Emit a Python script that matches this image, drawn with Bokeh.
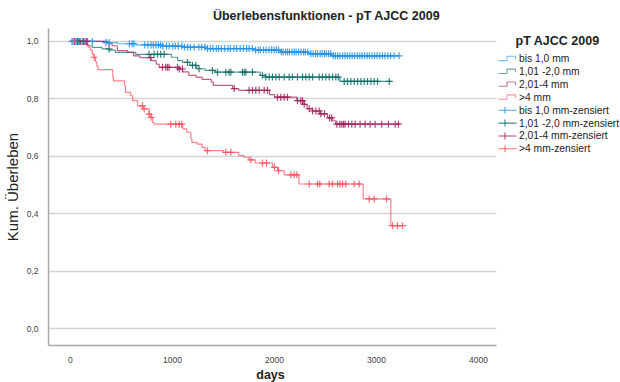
import numpy as np
from bokeh.plotting import figure
from bokeh.layouts import column, row
from bokeh.models import Range1d, FixedTicker, CustomJSTickFormatter
from bokeh.core.properties import value
from bokeh.embed import file_html
from bokeh.resources import INLINE

FONT = "Liberation Sans"

# ---- Kaplan-Meier step data (days, cumulative survival) per pT group ----
groups = ["bis 1,0 mm", "1,01 -2,0 mm", "2,01-4 mm", ">4 mm"]

t_bis1 = [0, 340, 460, 640, 900, 1100, 1330, 1800, 2060, 2330, 2560, 3225]
s_bis1 = [1.0, 0.996, 0.992, 0.988, 0.984, 0.980, 0.975, 0.970, 0.963, 0.957, 0.950, 0.950]

t_1to2 = [0, 100, 165, 215, 310, 380, 440, 640, 990, 1050, 1100, 1170, 1240, 1320, 1420,
          1860, 1910, 2640, 3150]
s_1to2 = [1.0, 0.991, 0.985, 0.979, 0.974, 0.970, 0.962, 0.955, 0.945, 0.933, 0.927, 0.917,
          0.905, 0.899, 0.893, 0.882, 0.876, 0.861, 0.861]

t_2to4 = [0, 370, 410, 460, 560, 620, 680, 790, 840, 870, 1060, 1100, 1160, 1230, 1290, 1380,
          1400, 1590, 1650, 1950, 2000, 2220, 2290, 2320, 2370, 2450, 2520, 2570, 2600, 3230]
s_2to4 = [1.0, 0.991, 0.985, 0.968, 0.962, 0.950, 0.944, 0.933, 0.921, 0.910, 0.904, 0.894,
          0.882, 0.876, 0.868, 0.859, 0.847, 0.836, 0.830, 0.815, 0.806, 0.794, 0.781, 0.766,
          0.758, 0.748, 0.734, 0.724, 0.712, 0.712]

t_gt4 = [0, 150, 175, 195, 215, 232, 245, 258, 270, 415, 422, 530, 540, 590, 610, 660, 710,
         770, 790, 805, 820, 1100, 1140, 1180, 1190, 1240, 1290, 1320, 1500, 1650, 1700, 1750,
         1810, 1980, 2030, 2095, 2240, 2870, 3140, 3260]
s_gt4 = [1.0, 0.99, 0.98, 0.97, 0.955, 0.945, 0.93, 0.915, 0.902, 0.876, 0.863, 0.845, 0.823,
         0.811, 0.794, 0.776, 0.765, 0.747, 0.736, 0.718, 0.712, 0.696, 0.684, 0.661, 0.649,
         0.643, 0.631, 0.62, 0.614, 0.603, 0.597, 0.588, 0.577, 0.562, 0.55, 0.536, 0.504,
         0.452, 0.359, 0.359]

# ---- censoring times (days) ----
c_bis1 = [15, 28, 40, 52, 63, 75, 88, 118, 144, 168, 215, 348, 380, 578, 605, 622, 728, 760,
          790, 812, 838, 862, 884, 905, 942, 968, 1003, 1027, 1058, 1092, 1118, 1149, 1176,
          1212, 1258, 1286, 1317, 1343, 1372, 1398, 1430, 1452, 1478, 1512, 1545, 1568, 1602,
          1629, 1664, 1696, 1727, 1751, 1783, 1815, 1842, 1861, 1893, 1918, 1947, 1972, 1996,
          2018, 2041, 2067, 2085, 2108, 2127, 2146, 2171, 2193, 2212, 2236, 2260, 2284, 2302,
          2327, 2356, 2378, 2402, 2421, 2447, 2466, 2489, 2508, 2531, 2552, 2576, 2597, 2619,
          2641, 2668, 2690, 2714, 2738, 2761, 2787, 2812, 2836, 2858, 2884, 2909, 2931, 2957,
          2982, 3006, 3031, 3058, 3083, 3111, 3138, 3172, 3221]
c_1to2 = [379, 771, 820, 853, 885, 918, 1147, 1196, 1228, 1261, 1392, 1441, 1523, 1555, 1572,
          1686, 1703, 1719, 1784, 1882, 1915, 1948, 1980, 2013, 2046, 2095, 2144, 2176, 2225,
          2275, 2307, 2340, 2373, 2438, 2470, 2503, 2536, 2569, 2601, 2625, 2683, 2716, 2749,
          2781, 2814, 2847, 2879, 2912, 2945, 2977, 3010, 3125]
c_2to4 = [70, 95, 130, 160, 787, 902, 934, 951, 967, 1049, 1066, 1098, 1605, 1751, 1784, 1817,
          1850, 1899, 1931, 2029, 2062, 2095, 2127, 2225, 2258, 2275, 2291, 2340, 2373, 2405,
          2438, 2454, 2490, 2540, 2560, 2611, 2641, 2660, 2677, 2692, 2725, 2758, 2790, 2839,
          2888, 2937, 2986, 3051, 3117, 3183, 3215]
c_gt4 = [40, 232, 706, 722, 771, 790, 983, 1032, 1066, 1091, 1343, 1523, 1572, 1768, 1882,
         1922, 2000, 2040, 2160, 2193, 2219, 2340, 2422, 2444, 2536, 2569, 2618, 2640, 2667,
         2699, 2781, 2830, 2928, 2977, 3098, 3157, 3206, 3255]

y_ticks = [0.0, 0.2, 0.4, 0.6, 0.8, 1.0]
x_ticks = [0, 1000, 2000, 3000, 4000]

colors = ["#1E90E8", "#0F6B68", "#A01E5A", "#FF4D5A"]
series = [(t_bis1, s_bis1, c_bis1), (t_1to2, s_1to2, c_1to2),
          (t_2to4, s_2to4, c_2to4), (t_gt4, s_gt4, c_gt4)]

# page layout (pixels): header strip, plot row, footer strip
W, H = 620, 382
HEAD_H = 28
FRAME_BOTTOM = 345
FOOT_H = 17
ROW_H = H - HEAD_H - FOOT_H
BORDER_BOTTOM = ROW_H - (FRAME_BOTTOM - HEAD_H)
MAIN_W = 497


def surv_at(ts, ss, t):
    idx = np.searchsorted(np.asarray(ts), np.asarray(t), side="right") - 1
    return np.asarray(ss)[idx]


def bare(width, height, xr, yr, **kw):
    f = figure(width=width, height=height, x_range=Range1d(*xr), y_range=Range1d(*yr),
               output_backend="svg", toolbar_location=None, title=None,
               x_axis_type=None, y_axis_type=None, **kw)
    f.outline_line_color = None
    f.grid.visible = False
    return f


# ---- title strip ----
head = bare(W, HEAD_H, (0, W), (HEAD_H, 0), min_border=0)
head.text(x=[326], y=[15], text=["Überlebensfunktionen - pT AJCC 2009"],
          text_font=value(FONT), text_font_size=value("12.5px"), text_font_style="bold",
          text_align="center", text_baseline="middle", text_color="#222222")

# ---- main survival plot ----
p = figure(width=MAIN_W, height=ROW_H, x_range=Range1d(-215, 4176),
           y_range=Range1d(-0.058, 1.045),
           output_backend="svg", toolbar_location=None, title=None,
           min_border_left=46, min_border_right=1, min_border_top=0,
           min_border_bottom=BORDER_BOTTOM)
p.outline_line_color = None
p.xgrid.visible = False
p.ygrid.grid_line_color = "#d4d4d4"
p.ygrid.grid_line_width = 1.5

for ax in (p.xaxis[0], p.yaxis[0]):
    ax.axis_line_color = "#a8a8a8"
    ax.axis_line_width = 1.5
    ax.major_tick_line_color = None
    ax.minor_tick_line_color = None
    ax.major_label_text_font = FONT
    ax.major_label_text_font_size = "8.5px"
    ax.major_label_text_color = "#404040"
    ax.axis_label_text_font = FONT
    ax.axis_label_text_color = "#222222"

p.yaxis.ticker = FixedTicker(ticks=y_ticks)
p.yaxis.formatter = CustomJSTickFormatter(code="return tick.toFixed(1).replace('.', ',');")
p.yaxis.major_label_standoff = 4
p.yaxis.axis_label = "Kum. Überleben"
p.yaxis.axis_label_text_font_size = "15px"
p.yaxis.axis_label_text_font_style = "normal"
p.yaxis.axis_label_standoff = 3

p.xaxis.ticker = FixedTicker(ticks=x_ticks)
p.xaxis.major_label_standoff = 5

for (ts, ss, cs), col in zip(series, colors):
    p.step(x=ts, y=ss, mode="after", line_color=col, line_width=1.2, line_alpha=0.7)
for (ts, ss, cs), col in zip(series, colors):
    p.scatter(x=cs, y=surv_at(ts, ss, cs), marker="cross", size=7,
              line_color=col, line_width=1.2, line_alpha=0.85)

# ---- legend panel (page pixel coordinates) ----
lg = bare(W - MAIN_W, ROW_H, (MAIN_W, W), (FRAME_BOTTOM, HEAD_H),
          min_border_left=0, min_border_right=0, min_border_top=0,
          min_border_bottom=BORDER_BOTTOM)
lg.text(x=[515], y=[40], text=["pT AJCC 2009"], text_font=value(FONT),
        text_font_size=value("12.5px"), text_font_style="bold", text_baseline="middle",
        text_color="#222222")

row_y0 = 58.3
row_dy = 12.86
labels = groups + [g + "-zensiert" for g in groups]
for i, lab in enumerate(labels):
    y = row_y0 + i * row_dy
    col = colors[i % 4]
    if i < 4:
        lg.line(x=[498, 506.5, 506.5, 515, 515], y=[y + 1.8, y + 1.8, y - 2.5, y - 2.5, y + 0.5],
                line_color=col, line_width=1.1, line_alpha=0.6)
    else:
        lg.line(x=[498, 516], y=[y, y], line_color=col, line_width=1.1, line_alpha=0.8)
        lg.line(x=[504.5, 504.5], y=[y - 3.5, y + 3.5], line_color=col, line_width=1.1,
                line_alpha=0.8)
    lg.text(x=[518.5], y=[y], text=[lab], text_font=value(FONT),
            text_font_size=value("10.3px"), text_baseline="middle", text_color="#222222")

# ---- x axis title strip ----
foot = bare(W, FOOT_H, (0, W), (H, H - FOOT_H), min_border=0)
foot.text(x=[270], y=[374], text=["days"], text_font=value(FONT),
          text_font_size=value("12.5px"), text_font_style="bold", text_align="center",
          text_baseline="middle", text_color="#222222")

layout = column(head, row(p, lg), foot)
open("out.html", "w").write(file_html(layout, INLINE))
